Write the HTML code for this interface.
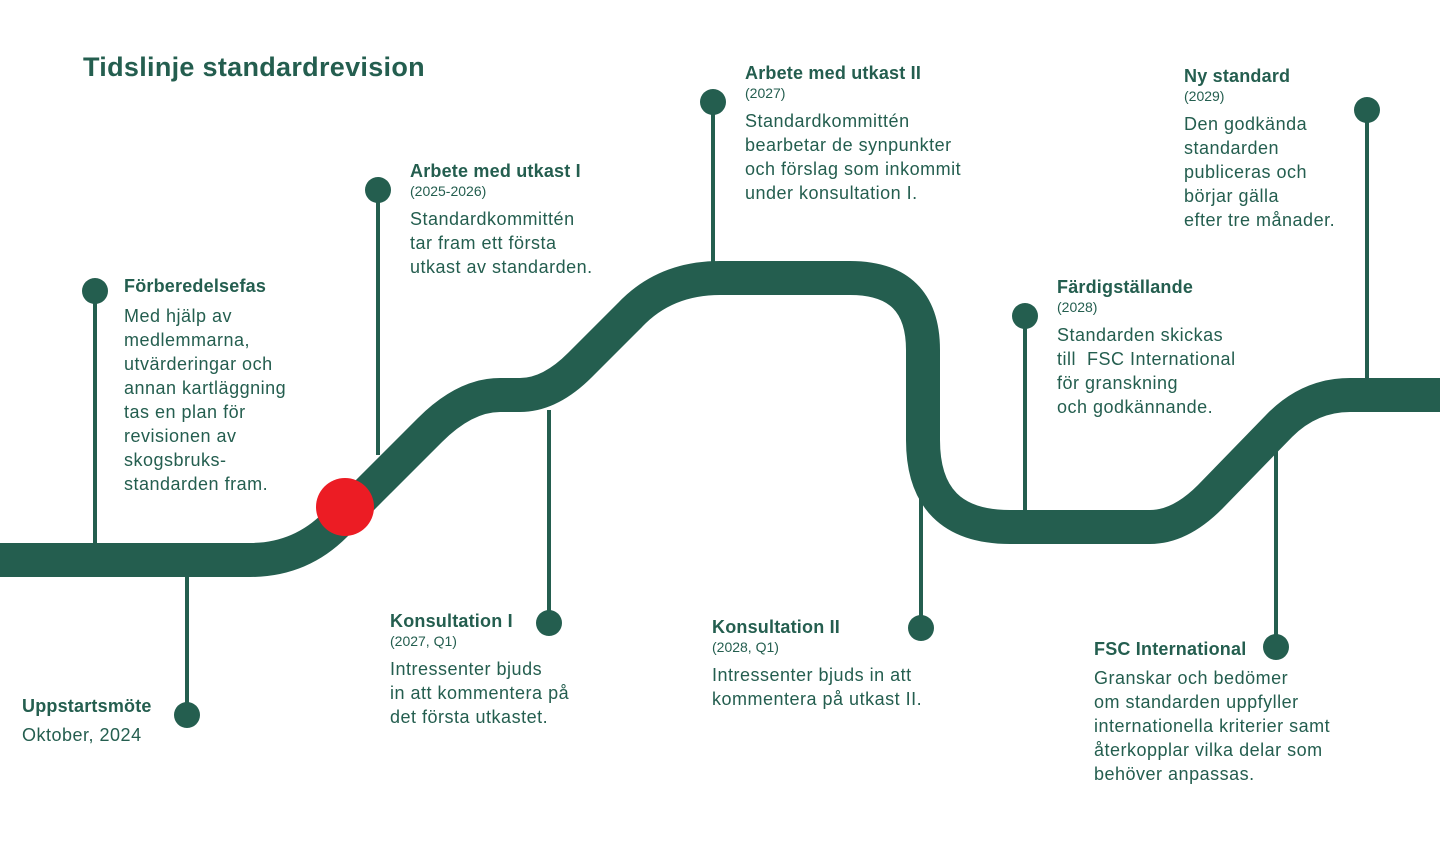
<!DOCTYPE html>
<html><head><meta charset="utf-8"><style>
body{margin:0;width:1440px;height:866px;background:#fff;overflow:hidden;position:relative;font-family:"Liberation Sans",sans-serif;color:#245e4f}
svg{position:absolute;left:0;top:0}
.t{position:absolute;font-size:18px;line-height:24px;white-space:nowrap;letter-spacing:0.5px}
.t b{display:block;font-size:18px;line-height:22px;letter-spacing:0.2px}
.t i{display:block;font-style:normal;font-size:14px;line-height:18px;margin-bottom:7px;letter-spacing:0}
h1{position:absolute;left:83px;top:52px;margin:0;font-size:27px;font-weight:bold;letter-spacing:0.3px}
</style></head><body>
<svg width="1440" height="866">
<g stroke="#245e4f" stroke-width="4">
<line x1="95" y1="291" x2="95" y2="545"/>
<line x1="187" y1="577" x2="187" y2="715"/>
<line x1="378" y1="190" x2="378" y2="455"/>
<line x1="549" y1="410" x2="549" y2="623"/>
<line x1="713" y1="102" x2="713" y2="262"/>
<line x1="921" y1="440" x2="921" y2="628"/>
<line x1="1025" y1="316" x2="1025" y2="510"/>
<line x1="1276" y1="440" x2="1276" y2="647"/>
<line x1="1367" y1="110" x2="1367" y2="378"/>
</g>
<path d="M0,560 L250,560 Q300,560 335,525 L430,430 Q465,395 500,395 L520,395 Q550,395 580,365 L630,315 Q665,278 720,278 L850,278 Q923,278 923,350 L923,440 Q923,527 1010,527 L1150,527 Q1180,527 1210,497 L1280,425 Q1310,395 1350,395 L1440,395" fill="none" stroke="#245e4f" stroke-width="34"/>
<g fill="#245e4f">
<circle cx="95" cy="291" r="13"/><circle cx="187" cy="715" r="13"/><circle cx="378" cy="190" r="13"/>
<circle cx="549" cy="623" r="13"/><circle cx="713" cy="102" r="13"/><circle cx="921" cy="628" r="13"/>
<circle cx="1025" cy="316" r="13"/><circle cx="1276" cy="647" r="13"/><circle cx="1367" cy="110" r="13"/>
</g>
<circle cx="345" cy="507" r="29" fill="#ec1c24"/>
</svg>
<h1>Tidslinje standardrevision</h1>
<div class="t" style="left:124px;top:275px"><b style="margin-bottom:7px">Förberedelsefas</b>Med hjälp av<br>medlemmarna,<br>utvärderingar och<br>annan kartläggning<br>tas en plan för<br>revisionen av<br>skogsbruks-<br>standarden fram.</div>
<div class="t" style="left:22px;top:695px"><b style="margin-bottom:6px">Uppstartsmöte</b>Oktober, 2024</div>
<div class="t" style="left:410px;top:160px"><b>Arbete med utkast I</b><i>(2025-2026)</i>Standardkommittén<br>tar fram ett första<br>utkast av standarden.</div>
<div class="t" style="left:390px;top:610px"><b>Konsultation I</b><i>(2027, Q1)</i>Intressenter bjuds<br>in att kommentera på<br>det första utkastet.</div>
<div class="t" style="left:745px;top:62px"><b>Arbete med utkast II</b><i>(2027)</i>Standardkommittén<br>bearbetar de synpunkter<br>och förslag som inkommit<br>under konsultation I.</div>
<div class="t" style="left:712px;top:616px"><b>Konsultation II</b><i>(2028, Q1)</i>Intressenter bjuds in att<br>kommentera på utkast II.</div>
<div class="t" style="left:1057px;top:276px"><b>Färdigställande</b><i>(2028)</i>Standarden skickas<br>till &nbsp;FSC International<br>för granskning<br>och godkännande.</div>
<div class="t" style="left:1094px;top:638px"><b style="margin-bottom:6px">FSC International</b>Granskar och bedömer<br>om standarden uppfyller<br>internationella kriterier samt<br>återkopplar vilka delar som<br>behöver anpassas.</div>
<div class="t" style="left:1184px;top:65px"><b>Ny standard</b><i>(2029)</i>Den godkända<br>standarden<br>publiceras och<br>börjar gälla<br>efter tre månader.</div>
</body></html>
